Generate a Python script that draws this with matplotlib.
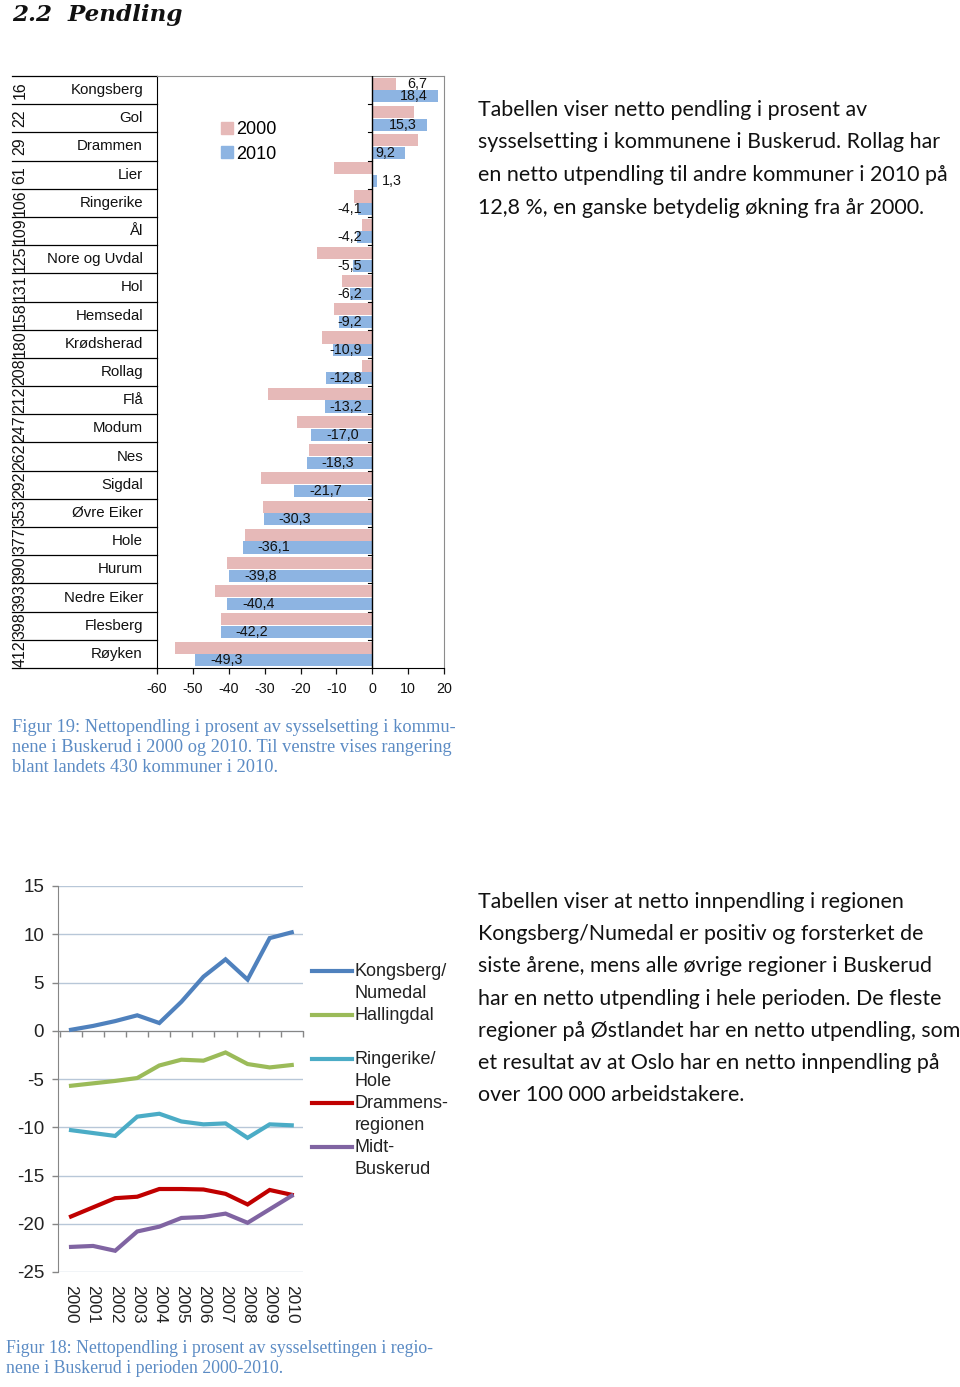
import numpy as np
import matplotlib
matplotlib.use("Agg")
import matplotlib.pyplot as plt
from matplotlib.patches import Patch
from matplotlib.lines import Line2D

# ---------------- data ----------------
municipalities = ["Kongsberg", "Gol", "Drammen", "Lier", "Ringerike", "Ål",
                  "Nore og Uvdal", "Hol", "Hemsedal", "Krødsherad", "Rollag",
                  "Flå", "Modum", "Nes", "Sigdal", "Øvre Eiker", "Hole",
                  "Hurum", "Nedre Eiker", "Flesberg", "Røyken"]
ranks = [16, 22, 29, 61, 106, 109, 125, 131, 158, 180, 208, 212, 247, 262,
         292, 353, 377, 390, 393, 398, 412]
values_2000 = [6.7, 11.6, 12.7, -10.6, -5.1, -2.9, -15.3, -8.3, -10.8, -14.0,
               -2.9, -29.0, -20.9, -17.6, -30.9, -30.5, -35.6, -40.5, -43.8,
               -42.2, -55.1]
values_2010 = [18.4, 15.3, 9.2, 1.3, -4.1, -4.2, -5.5, -6.2, -9.2, -10.9,
               -12.8, -13.2, -17.0, -18.3, -21.7, -30.3, -36.1, -39.8, -40.4,
               -42.2, -49.3]
bar_xticks = [-60, -50, -40, -30, -20, -10, 0, 10, 20]

years = ["2000", "2001", "2002", "2003", "2004", "2005", "2006", "2007",
         "2008", "2009", "2010"]
regions = ["Kongsberg/\nNumedal", "Hallingdal", "Ringerike/\nHole",
           "Drammens-\nregionen", "Midt-\nBuskerud"]
kongsberg_numedal = [0.1, 0.5, 1.0, 1.6, 0.8, 3.0, 5.6, 7.4, 5.3, 9.6, 10.2]
hallingdal = [-5.7, -5.45, -5.2, -4.9, -3.6, -3.0, -3.1, -2.25, -3.45, -3.8, -3.55]
ringerike_hole = [-10.3, -10.6, -10.9, -8.9, -8.6, -9.4, -9.7, -9.6, -11.1, -9.7, -9.8]
drammensregionen = [-19.25, -18.3, -17.35, -17.2, -16.4, -16.4, -16.45, -16.9, -18.0, -16.5, -17.0]
midt_buskerud = [-22.4, -22.3, -22.8, -20.8, -20.3, -19.4, -19.3, -18.95, -19.9, -18.5, -17.1]
line_yticks = [-25, -20, -15, -10, -5, 0, 5, 10, 15]

title = "2.2  Pendling"
para1 = ["Tabellen viser netto pendling i prosent av",
         "sysselsetting i kommunene i Buskerud. Rollag har",
         "en netto utpendling til andre kommuner i 2010 på",
         "12,8 %, en ganske betydelig økning fra år 2000."]
para2 = ["Tabellen viser at netto innpendling i regionen",
         "Kongsberg/Numedal er positiv og forsterket de",
         "siste årene, mens alle øvrige regioner i Buskerud",
         "har en netto utpendling i hele perioden. De fleste",
         "regioner på Østlandet har en netto utpendling, som",
         "et resultat av at Oslo har en netto innpendling på",
         "over 100 000 arbeidstakere."]
caption1 = ["Figur 19: Nettopendling i prosent av sysselsetting i kommu-",
            "nene i Buskerud i 2000 og 2010. Til venstre vises rangering",
            "blant landets 430 kommuner i 2010."]
caption2 = ["Figur 18: Nettopendling i prosent av sysselsettingen i regio-",
            "nene i Buskerud i perioden 2000-2010."]

# ---------------- style ----------------
W, H = 960, 1387
SANS = "Liberation Sans"
BODY = "Lato"
SERIF = "Liberation Serif"
PINK = "#E6B9B8"
BLUE = "#8DB4E2"
CAPTION_C = "#5B8BC4"
line_colors = ["#4F81BD", "#9BBB59", "#4BACC6", "#C00000", "#8064A2"]


def fx(px):
    return px / W


def fy(py):
    return 1 - py / H


fig = plt.figure(figsize=(W / 100, H / 100), dpi=100)
fig.patch.set_facecolor("white")

# title
fig.text(fx(12), fy(21), title, fontsize=16.6, family="DejaVu Serif",
         weight="bold", style="italic", va="baseline", ha="left", color="#111111")

# paragraphs
for i, line in enumerate(para1):
    fig.text(fx(478), fy(116 + 32.5 * i), line, fontsize=15.4, family=BODY,
             va="baseline", ha="left", color="#111111")
for i, line in enumerate(para2):
    fig.text(fx(478), fy(908 + 32.2 * i), line, fontsize=15.4, family=BODY,
             va="baseline", ha="left", color="#111111")

# captions
for i, line in enumerate(caption1):
    fig.text(fx(12), fy(732 + 20 * i), line, fontsize=13.2, family=SERIF,
             va="baseline", ha="left", color=CAPTION_C)
for i, line in enumerate(caption2):
    fig.text(fx(6), fy(1353 + 20 * i), line, fontsize=12.8, family=SERIF,
             va="baseline", ha="left", color=CAPTION_C)

# ---------------- bar chart ----------------
L, R, T, B = 157, 444, 76, 668
ax1 = fig.add_axes([fx(L), fy(B), (R - L) / W, (B - T) / H])
n = len(municipalities)
ypos = np.arange(n)
ax1.barh(ypos - 0.225, values_2000, height=0.43, color=PINK, label="2000", zorder=2)
ax1.barh(ypos + 0.225, values_2010, height=0.43, color=BLUE, label="2010", zorder=2)
ax1.set_xlim(-60, 20)
ax1.set_ylim(n - 0.5, -0.5)
ax1.axvline(0, color="black", lw=1.0, zorder=3)
bounds = np.arange(n + 1) - 0.5
for b in bounds[1:-1]:
    ax1.plot([-1.1, 0], [b, b], color="black", lw=0.8, zorder=3)
ytr = ax1.get_yaxis_transform()
for b in bounds:
    ax1.plot([-(L - 12) / (R - L), 0], [b, b], transform=ytr, clip_on=False,
             color="black", lw=0.9)
for i in range(n):
    ax1.text(-(L - 143) / (R - L), i, municipalities[i], transform=ytr,
             ha="right", va="center", fontsize=10.8, family=SANS, color="#111111")
    ax1.text(-(L - 20) / (R - L), i, str(ranks[i]), transform=ytr,
             ha="center", va="center", rotation=90, fontsize=11.5, family=SANS,
             color="#111111")


def fmt(v):
    return f"{v:.1f}".replace(".", ",")


for i, v in enumerate(values_2010):
    if v < 0:
        ax1.text(min(v + 13.2, -2.8), i + 0.225, fmt(v), ha="right", va="center",
                 fontsize=10.3, family=SANS, color="#111111", zorder=4)
    elif v > 12:
        ax1.text(v - 10.8, i + 0.225, fmt(v), ha="left", va="center",
                 fontsize=10.3, family=SANS, color="#111111", zorder=4)
    elif v > 3:
        ax1.text(0.8, i + 0.225, fmt(v), ha="left", va="center",
                 fontsize=10.3, family=SANS, color="#111111", zorder=4)
    else:
        ax1.text(v + 1.4, i + 0.225, fmt(v), ha="left", va="center",
                 fontsize=10.3, family=SANS, color="#111111", zorder=4)
ax1.text(values_2000[0] + 3.0, 0 - 0.225, fmt(values_2000[0]), ha="left",
         va="center", fontsize=10.3, family=SANS, color="#111111", zorder=4)

ax1.set_xticks(bar_xticks)
ax1.set_xticklabels([str(t) for t in bar_xticks], family=SANS)
ax1.tick_params(axis="x", direction="out", length=4, width=0.9, labelsize=10.3,
                pad=6, colors="#111111")
ax1.set_yticks([])
for s in ["top", "right"]:
    ax1.spines[s].set_color("#8C8C8C")
ax1.spines["left"].set_color("black")
ax1.spines["bottom"].set_color("black")
leg = ax1.legend(handles=[Patch(color=PINK), Patch(color=BLUE)],
                 labels=["2000", "2010"], loc="upper left",
                 bbox_to_anchor=(fx(221), fy(121)), bbox_transform=fig.transFigure,
                 frameon=False, prop={"family": SANS, "size": 13},
                 handlelength=0.65, handleheight=0.65, handletextpad=0.2,
                 labelspacing=0.42, borderpad=0, borderaxespad=0)

# ---------------- line chart ----------------
L2, R2, T2, B2 = 58, 303, 886, 1272
ax2 = fig.add_axes([fx(L2), fy(B2), (R2 - L2) / W, (B2 - T2) / H])
xs = np.arange(len(years))
series = [kongsberg_numedal, hallingdal, ringerike_hole, drammensregionen, midt_buskerud]
for vals, c in zip(series, line_colors):
    ax2.plot(xs, vals, color=c, lw=3.0, solid_joinstyle="miter", zorder=3)
ax2.set_ylim(-25, 15)
ax2.set_xlim(-0.59, 10.51)
ax2.set_yticks(line_yticks)
ax2.set_yticklabels([str(t) for t in line_yticks], family=SANS)
ax2.yaxis.grid(True, color="#B8C7D8", lw=1.0)
ax2.set_axisbelow(True)
ax2.spines["top"].set_visible(False)
ax2.spines["right"].set_visible(False)
ax2.spines["left"].set_color("#868686")
ax2.spines["bottom"].set_position(("data", 0))
ax2.spines["bottom"].set_color("#868686")
ax2.set_xticks(np.arange(-0.5, len(years), 1.0))
ax2.set_xticklabels([])
ax2.tick_params(axis="x", direction="out", length=4, width=1.0, colors="#868686")
ax2.tick_params(axis="y", direction="out", length=4, width=1.0, colors="#868686",
                labelcolor="#222222", labelsize=13.5, pad=6)
xtr = ax2.get_xaxis_transform()
for i, yr in enumerate(years):
    ax2.text(i, -(1285 - B2) / (B2 - T2), yr, transform=xtr, rotation=-90,
             ha="center", va="top", fontsize=12.5, family=SANS, color="#222222")

# legend (manual, first line aligned with marker)
for k, (lab, c) in enumerate(zip(regions, line_colors)):
    yk = 971 + 44 * k
    fig.add_artist(Line2D([fx(312), fx(352)], [fy(yk), fy(yk)], color=c, lw=3.0))
    for j, part in enumerate(lab.split("\n")):
        fig.text(fx(355), fy(yk + 22 * j), part, fontsize=13, family=SANS,
                 va="center", ha="left", color="#222222")

fig.savefig("out.png", dpi=100, facecolor="white")
